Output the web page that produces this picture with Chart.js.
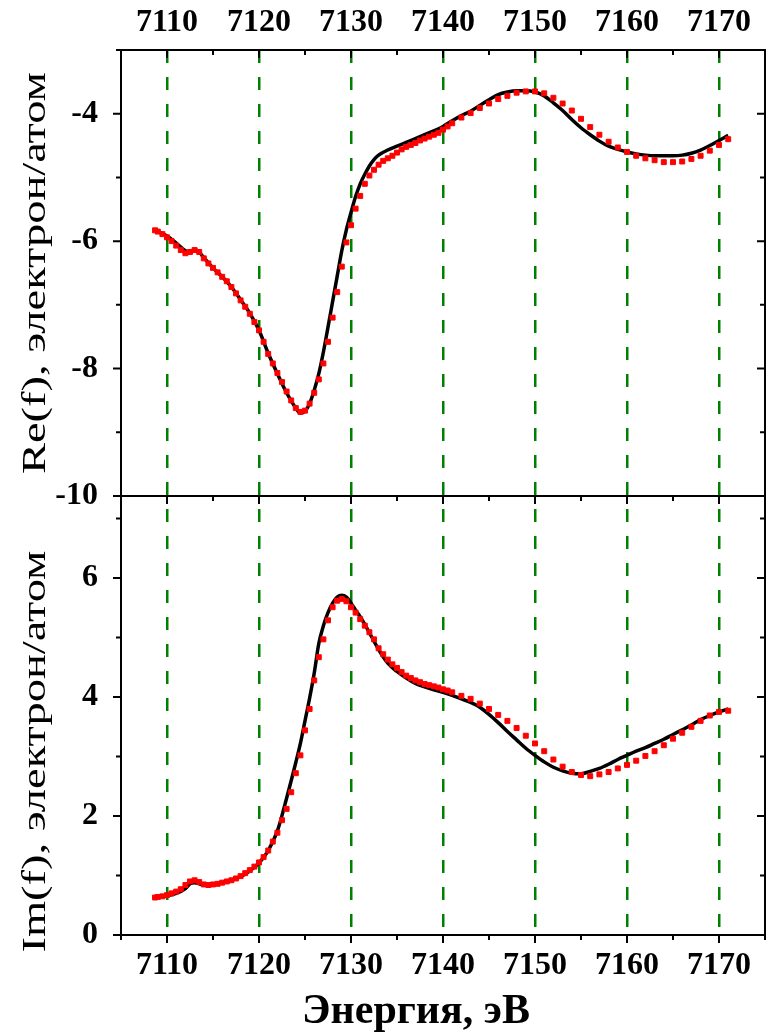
<!DOCTYPE html>
<html>
<head>
<meta charset="utf-8">
<script src="https://cdn.jsdelivr.net/npm/chart.js@4.4.1/dist/chart.umd.min.js"></script>
<style>
  html, body { margin: 0; padding: 0; background: #fff; }
  #chart { display: block; }
</style>
</head>
<body>
<canvas id="chart" width="770" height="1034"></canvas>
<script>
'use strict';

// experiment (red squares)
var energyExp = [7108.7,
  7109, 7109.5, 7110, 7110.5, 7111, 7111.5, 7112, 7112.5, 7113, 7113.5,
  7114, 7114.5, 7115, 7115.5, 7116, 7116.5, 7117, 7117.5, 7118, 7118.5,
  7119, 7119.5, 7120, 7120.5, 7121, 7121.5, 7122, 7122.5, 7123, 7123.5,
  7124, 7124.5, 7125, 7125.5, 7126, 7126.5, 7127, 7127.5, 7128, 7128.5,
  7129, 7129.5, 7130, 7130.5, 7131, 7131.5, 7132, 7132.5, 7133, 7133.5,
  7134, 7134.5, 7135, 7135.5, 7136, 7136.5, 7137, 7137.5, 7138, 7138.5,
  7139, 7139.5, 7140, 7140.5, 7141,
  7142, 7143, 7144, 7145, 7146, 7147, 7148, 7149, 7150, 7151,
  7152, 7153, 7154, 7155, 7156, 7157, 7158, 7159, 7160, 7161,
  7162, 7163, 7164, 7165, 7166, 7167, 7168, 7169, 7170, 7171];
var reExp = [-5.83,
  -5.85, -5.89, -5.94, -6.00, -6.07, -6.14, -6.19, -6.17, -6.14, -6.17,
  -6.27, -6.35, -6.42, -6.49, -6.56, -6.63, -6.72, -6.82, -6.93, -7.03,
  -7.14, -7.27, -7.40, -7.58, -7.77, -7.92, -8.07, -8.21, -8.36, -8.50,
  -8.62, -8.68, -8.66, -8.55, -8.38, -8.17, -7.92, -7.58, -7.20, -6.80,
  -6.40, -6.02, -5.75, -5.49, -5.29, -5.10, -4.97, -4.88, -4.80, -4.74,
  -4.70, -4.66, -4.61, -4.56, -4.52, -4.49, -4.46, -4.42, -4.39, -4.36,
  -4.33, -4.30, -4.25, -4.20, -4.15,
  -4.06, -3.99, -3.91, -3.84, -3.77, -3.72, -3.67, -3.65, -3.65, -3.68,
  -3.75, -3.84, -3.95, -4.08, -4.21, -4.33, -4.44, -4.53, -4.60, -4.66,
  -4.70, -4.73, -4.76, -4.76, -4.75, -4.71, -4.66, -4.58, -4.49, -4.40];
var imExp = [0.63,
  0.64, 0.65, 0.67, 0.70, 0.73, 0.77, 0.84, 0.90, 0.92, 0.89,
  0.85, 0.84, 0.85, 0.86, 0.88, 0.90, 0.92, 0.95, 0.99, 1.04,
  1.09, 1.15, 1.22, 1.31, 1.42, 1.57, 1.72, 1.93, 2.12, 2.40,
  2.72, 3.02, 3.44, 3.80, 4.28, 4.67, 4.97, 5.29, 5.51, 5.62,
  5.65, 5.61, 5.51, 5.42, 5.31, 5.20, 5.09, 4.97, 4.82, 4.72,
  4.63, 4.55, 4.49, 4.42, 4.36, 4.32, 4.28, 4.25, 4.22, 4.20,
  4.18, 4.16, 4.13, 4.11, 4.08,
  4.02, 3.97, 3.89, 3.80, 3.70, 3.60, 3.48, 3.35, 3.22, 3.09,
  2.95, 2.83, 2.74, 2.69, 2.67, 2.70, 2.74, 2.80, 2.86, 2.93,
  3.01, 3.09, 3.19, 3.30, 3.40, 3.50, 3.60, 3.69, 3.75, 3.77];

// calculation (black line)
var energyCalc = [7108.7, 7110, 7111, 7112, 7112.5, 7113, 7113.5, 7114, 7115, 7116,
  7117, 7118, 7119, 7120, 7121, 7122, 7123, 7124, 7124.5, 7125,
  7125.5, 7126, 7126.5, 7127, 7127.5, 7128, 7128.5, 7129, 7129.5, 7130,
  7130.5, 7131, 7131.5, 7132, 7132.5, 7133,
  7134, 7135, 7136, 7137, 7138, 7139, 7140, 7141, 7142, 7143,
  7144, 7145, 7146, 7147, 7148, 7149, 7150, 7151, 7152, 7153,
  7154, 7155, 7156, 7157, 7158, 7159, 7160, 7161, 7162, 7163,
  7164, 7165, 7166, 7167, 7168, 7169, 7170, 7171];
var reCalc = [-5.82, -5.92, -6.03, -6.15, -6.17, -6.14, -6.17, -6.26, -6.42, -6.56,
  -6.72, -6.92, -7.13, -7.40, -7.76, -8.08, -8.38, -8.62, -8.70, -8.67,
  -8.55, -8.34, -8.08, -7.74, -7.35, -6.95, -6.55, -6.15, -5.82, -5.55,
  -5.30, -5.10, -4.95, -4.82, -4.72, -4.65,
  -4.57, -4.51, -4.45, -4.39, -4.33, -4.27, -4.20, -4.11, -4.03, -3.96,
  -3.87, -3.78, -3.70, -3.66, -3.64, -3.64, -3.66, -3.72, -3.83, -3.95,
  -4.09, -4.22, -4.33, -4.43, -4.51, -4.56, -4.60, -4.63, -4.65, -4.66,
  -4.66, -4.66, -4.65, -4.62, -4.57, -4.50, -4.42, -4.34];
var imCalc = [0.63, 0.66, 0.70, 0.78, 0.86, 0.88, 0.86, 0.84, 0.85, 0.88,
  0.92, 0.98, 1.08, 1.21, 1.42, 1.75, 2.30, 2.90, 3.22, 3.60,
  3.98, 4.40, 4.90, 5.20, 5.42, 5.58, 5.68, 5.71, 5.68, 5.58,
  5.46, 5.35, 5.22, 5.08, 4.94, 4.80,
  4.57, 4.43, 4.32, 4.23, 4.17, 4.12, 4.08, 4.03, 3.97, 3.91,
  3.83, 3.71, 3.57, 3.42, 3.28, 3.14, 3.02, 2.91, 2.82, 2.76,
  2.72, 2.71, 2.75, 2.80, 2.87, 2.95, 3.02, 3.09, 3.15, 3.22,
  3.29, 3.37, 3.45, 3.53, 3.62, 3.69, 3.75, 3.80];

var energyTicks = [7110, 7120, 7130, 7140, 7150, 7160, 7170];
var reTicks = [-10, -8, -6, -4];
var imTicks = [0, 2, 4, 6];

var xTitle = 'Энергия, эВ';
var reTitle = 'Re(f), электрон/атом';
var imTitle = 'Im(f), электрон/атом';

var tickFont = { family: 'Liberation Serif', size: 32, weight: 'bold' };
var green = '#008000';

function points(xs, ys) {
  return xs.map(function(x, i) { return { x: x, y: ys[i] }; });
}

function fixedTicks(list) {
  return function(scale) {
    scale.ticks = list.map(function(v) { return { value: v }; });
  };
}

function plainLabel(value) {
  return String(value);
}

function expDataset(data, axis) {
  return {
    data: data, yAxisID: axis, showLine: false, order: 0,
    pointStyle: 'rect', pointRadius: 3.5, pointBorderWidth: 1,
    backgroundColor: '#ff0000', borderColor: '#ff0000'
  };
}

function calcDataset(data, axis) {
  return {
    data: data, yAxisID: axis, showLine: true, order: 1,
    pointRadius: 0, borderWidth: 3.5, borderColor: '#000000',
    cubicInterpolationMode: 'monotone'
  };
}

// frame, minor ticks, axis titles
var framePlugin = {
  id: 'frame',
  afterDatasetsDraw: function(chart) {
    var ctx = chart.ctx;
    var a = chart.chartArea;
    var x = chart.scales.x, yRe = chart.scales.yRe, yIm = chart.scales.yIm;
    var mid = yRe.getPixelForValue(-10);
    var e, v, px, py, len;
    ctx.save();
    ctx.strokeStyle = '#000';
    ctx.lineWidth = 2;
    ctx.beginPath();
    ctx.rect(a.left, a.top, a.right - a.left, a.bottom - a.top);
    ctx.moveTo(a.left - 8, mid);
    ctx.lineTo(a.right, mid);
    for (e = 7105; e <= 7175; e += 5) {
      px = x.getPixelForValue(e);
      len = e % 10 === 0 ? 8 : 5;
      ctx.moveTo(px, a.top); ctx.lineTo(px, a.top + len);
      ctx.moveTo(px, mid); ctx.lineTo(px, mid + len);
      ctx.moveTo(px, a.bottom); ctx.lineTo(px, a.bottom + len);
    }
    for (v = -10; v <= -3; v++) {
      py = yRe.getPixelForValue(v);
      len = v % 2 === 0 ? 8 : 5;
      ctx.moveTo(a.left - len, py); ctx.lineTo(a.left, py);
      ctx.moveTo(a.right - len, py); ctx.lineTo(a.right, py);
    }
    for (v = 0; v <= 7; v++) {
      py = yIm.getPixelForValue(v);
      len = v % 2 === 0 ? 8 : 5;
      ctx.moveTo(a.left - len, py); ctx.lineTo(a.left, py);
      ctx.moveTo(a.right - len, py); ctx.lineTo(a.right, py);
    }
    ctx.stroke();

    ctx.fillStyle = '#000';
    ctx.textAlign = 'center';
    ctx.textBaseline = 'alphabetic';
    ctx.font = 'bold 42px "Liberation Serif"';
    ctx.fillText(xTitle, 416, 1023);

    ctx.font = '34px "Liberation Serif"';
    [[reTitle, (yRe.top + yRe.bottom) / 2], [imTitle, (yIm.top + yIm.bottom) / 2 + 36]].forEach(function(t) {
      var w = ctx.measureText(t[0]).width;
      ctx.save();
      ctx.translate(45, t[1]);
      ctx.rotate(-Math.PI / 2);
      ctx.scale(402 / w, 1);
      ctx.fillText(t[0], 0, 0);
      ctx.restore();
    });
    ctx.restore();
  }
};

var chart = new Chart(document.getElementById('chart').getContext('2d'), {
  type: 'scatter',
  data: {
    datasets: [
      expDataset(points(energyExp, reExp), 'yRe'),
      expDataset(points(energyExp, imExp), 'yIm'),
      calcDataset(points(energyCalc, reCalc), 'yRe'),
      calcDataset(points(energyCalc, imCalc), 'yIm')
    ]
  },
  options: {
    responsive: false,
    animation: false,
    devicePixelRatio: 1,
    layout: { padding: { left: 0, right: 2, top: 0, bottom: 0 } },
    plugins: { legend: { display: false }, tooltip: { enabled: false } },
    scales: {
      x: {
        type: 'linear', position: 'bottom', min: 7105, max: 7175,
        afterBuildTicks: fixedTicks(energyTicks),
        afterFit: function(s) { s.height = 99; },
        ticks: { maxRotation: 0, minRotation: 0, autoSkip: false, padding: 12,
          color: '#000', font: tickFont, callback: plainLabel },
        grid: { drawTicks: false, color: green, lineWidth: 2.5 },
        border: { display: false, dash: [13, 14] }
      },
      xTop: {
        type: 'linear', position: 'top', min: 7105, max: 7175,
        afterBuildTicks: fixedTicks(energyTicks),
        afterFit: function(s) { s.height = 50; },
        ticks: { maxRotation: 0, minRotation: 0, autoSkip: false, padding: 0,
          color: '#000', font: tickFont, callback: plainLabel },
        grid: { display: false },
        border: { display: false }
      },
      yIm: {
        type: 'linear', position: 'left', stack: 'panels', stackWeight: 439,
        min: 0, max: 7.38,
        afterBuildTicks: fixedTicks(imTicks),
        afterFit: function(s) { s.width = 121; },
        ticks: { autoSkip: false, padding: 15, color: '#000', font: tickFont, callback: plainLabel },
        grid: { display: false },
        border: { display: false }
      },
      yRe: {
        type: 'linear', position: 'left', stack: 'panels', stackWeight: 446,
        min: -10, max: -3,
        afterBuildTicks: fixedTicks(reTicks),
        afterFit: function(s) { s.width = 121; },
        ticks: { autoSkip: false, padding: 15, color: '#000', font: tickFont, callback: plainLabel },
        grid: { display: false },
        border: { display: false }
      }
    }
  },
  plugins: [framePlugin]
});
</script>
</body>
</html>
